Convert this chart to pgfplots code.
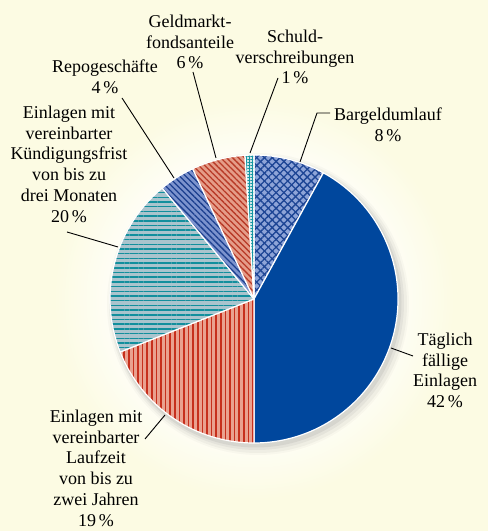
\documentclass[border=0pt]{standalone}
\usepackage{pgfplots}
\pgfplotsset{compat=1.18}
\usepackage{pgfplotstable}
\usetikzlibrary{patterns.meta}
\usepackage{fontspec}
\setmainfont{Liberation Serif}

\definecolor{cream}{HTML}{FCFBE3}
\definecolor{bargbg}{HTML}{8EA4D8}
\definecolor{bargfg}{HTML}{1D4595}
\definecolor{taeg}{HTML}{00479D}
\definecolor{laufbg}{HTML}{E9A18F}
\definecolor{lauffg}{HTML}{C62F1C}
\definecolor{kuendbg}{HTML}{AAC4CD}
\definecolor{kuendfg}{HTML}{128F9D}
\definecolor{repobg}{HTML}{7C93CE}
\definecolor{repofg}{HTML}{1B3E8E}
\definecolor{geldbg}{HTML}{E59C88}
\definecolor{geldfg}{HTML}{B83A27}
\definecolor{schulbg}{HTML}{D2E6E8}
\definecolor{schulfg}{HTML}{1596A2}

\pgfdeclareradialshading{glow}{\pgfpointorigin}{color(0bp)=(white); color(17bp)=(white!75!cream); color(25bp)=(cream); color(50bp)=(cream)}

% shares in percent, clockwise from 12 o'clock
\pgfplotstableread{
share
8
42
19
20
4
6
1
}\piedata

\tikzset{
  border/.style={postaction={draw=white,line width=1.2pt,line join=round}},
  slice0/.style={fill=bargbg,
    postaction={pattern={Lines[angle=45,distance=5.5pt,line width=1.3pt]},pattern color=bargfg},
    postaction={pattern={Lines[angle=-45,distance=5.5pt,line width=1.3pt]},pattern color=bargfg},
    border},
  slice1/.style={fill=taeg,border},
  slice2/.style={fill=laufbg,
    postaction={pattern={Lines[angle=90,distance=4.6pt,line width=1.5pt]},pattern color=lauffg},
    border},
  slice3/.style={fill=kuendbg,
    postaction={pattern={Lines[angle=0,distance=4.7pt,line width=1.5pt]},pattern color=kuendfg},
    border},
  slice4/.style={fill=repobg,
    postaction={pattern={Lines[angle=-45,distance=4.2pt,line width=1.3pt]},pattern color=repofg},
    border},
  slice5/.style={fill=geldbg,
    postaction={pattern={Lines[angle=-45,distance=4.2pt,line width=1.3pt]},pattern color=geldfg},
    border},
  slice6/.style={fill=schulbg,
    postaction={pattern={Lines[angle=0,distance=3pt,line width=0.8pt]},pattern color=schulfg},
    postaction={pattern={Lines[angle=90,distance=3pt,line width=0.8pt]},pattern color=schulfg},
    border},
  lab/.style={font=\fontsize{18}{20.8}\selectfont, align=center, anchor=north, inner sep=0pt, text=black},
  lead/.style={draw=black, line width=0.9pt},
}

\begin{document}
\begin{tikzpicture}
\begin{axis}[
  hide axis, scale only axis,
  width=488pt, height=531pt,
  xmin=0, xmax=488, ymin=0, ymax=531,
  clip=false,
]
% background
\fill[cream] (axis cs:0,0) rectangle (axis cs:488,531);
\shade[shading=glow] (axis cs:254,232) circle (200pt);
% soft shadow
\fill[black,opacity=0.025] (axis cs:258,227) circle (151pt);
\fill[black,opacity=0.035] (axis cs:258,227) circle (149pt);
\fill[black,opacity=0.045] (axis cs:257,228) circle (147pt);
\fill[black,opacity=0.06] (axis cs:256,229) circle (145.5pt);
% slices
\def\cum{0}
\pgfplotsforeachungrouped \i in {0,...,6}{%
  \pgfplotstablegetelem{\i}{share}\of\piedata
  \pgfmathsetmacro\s{90-3.6*\cum}%
  \pgfmathsetmacro\cum{\cum+\pgfplotsretval}%
  \pgfmathsetmacro\e{90-3.6*\cum}%
  \edef\doit{\noexpand\path[slice\i] (axis cs:254,232) -- ++(\s:144pt) arc[start angle=\s, end angle=\e, radius=144pt] -- cycle;}%
  \doit
}
% leader lines
\draw[lead] (axis cs:330,418) -- (axis cs:317,418) -- (axis cs:300,369);
\draw[lead] (axis cs:193,459) -- (axis cs:216,373);
\draw[lead] (axis cs:278,453) -- (axis cs:250,378);
\draw[lead] (axis cs:122,433) -- (axis cs:174,353);
\draw[lead] (axis cs:67,299) -- (axis cs:118,284);
\draw[lead] (axis cs:145,92) -- (axis cs:165,116);
\draw[lead] (axis cs:391,183) -- (axis cs:413,175);
% labels
\node[lab] at (axis cs:190,516.3) {Geldmarkt-\\fondsanteile\\6\,\%};
\node[lab] at (axis cs:295,501.3) {Schuld-\\verschreibungen\\1\,\%};
\node[lab] at (axis cs:105,471.3) {Repogeschäfte\\4\,\%};
\node[lab] at (axis cs:388,423.3) {Bargeldumlauf\\8\,\%};
\node[lab] at (axis cs:69,425.3) {Einlagen mit\\vereinbarter\\Kündigungsfrist\\von bis zu\\drei Monaten\\20\,\%};
\node[lab] at (axis cs:445,198.3) {Täglich\\fällige\\Einlagen\\42\,\%};
\node[lab] at (axis cs:96,121.3) {Einlagen mit\\vereinbarter\\Laufzeit\\von bis zu\\zwei Jahren\\19\,\%};
\end{axis}
\end{tikzpicture}
\end{document}
